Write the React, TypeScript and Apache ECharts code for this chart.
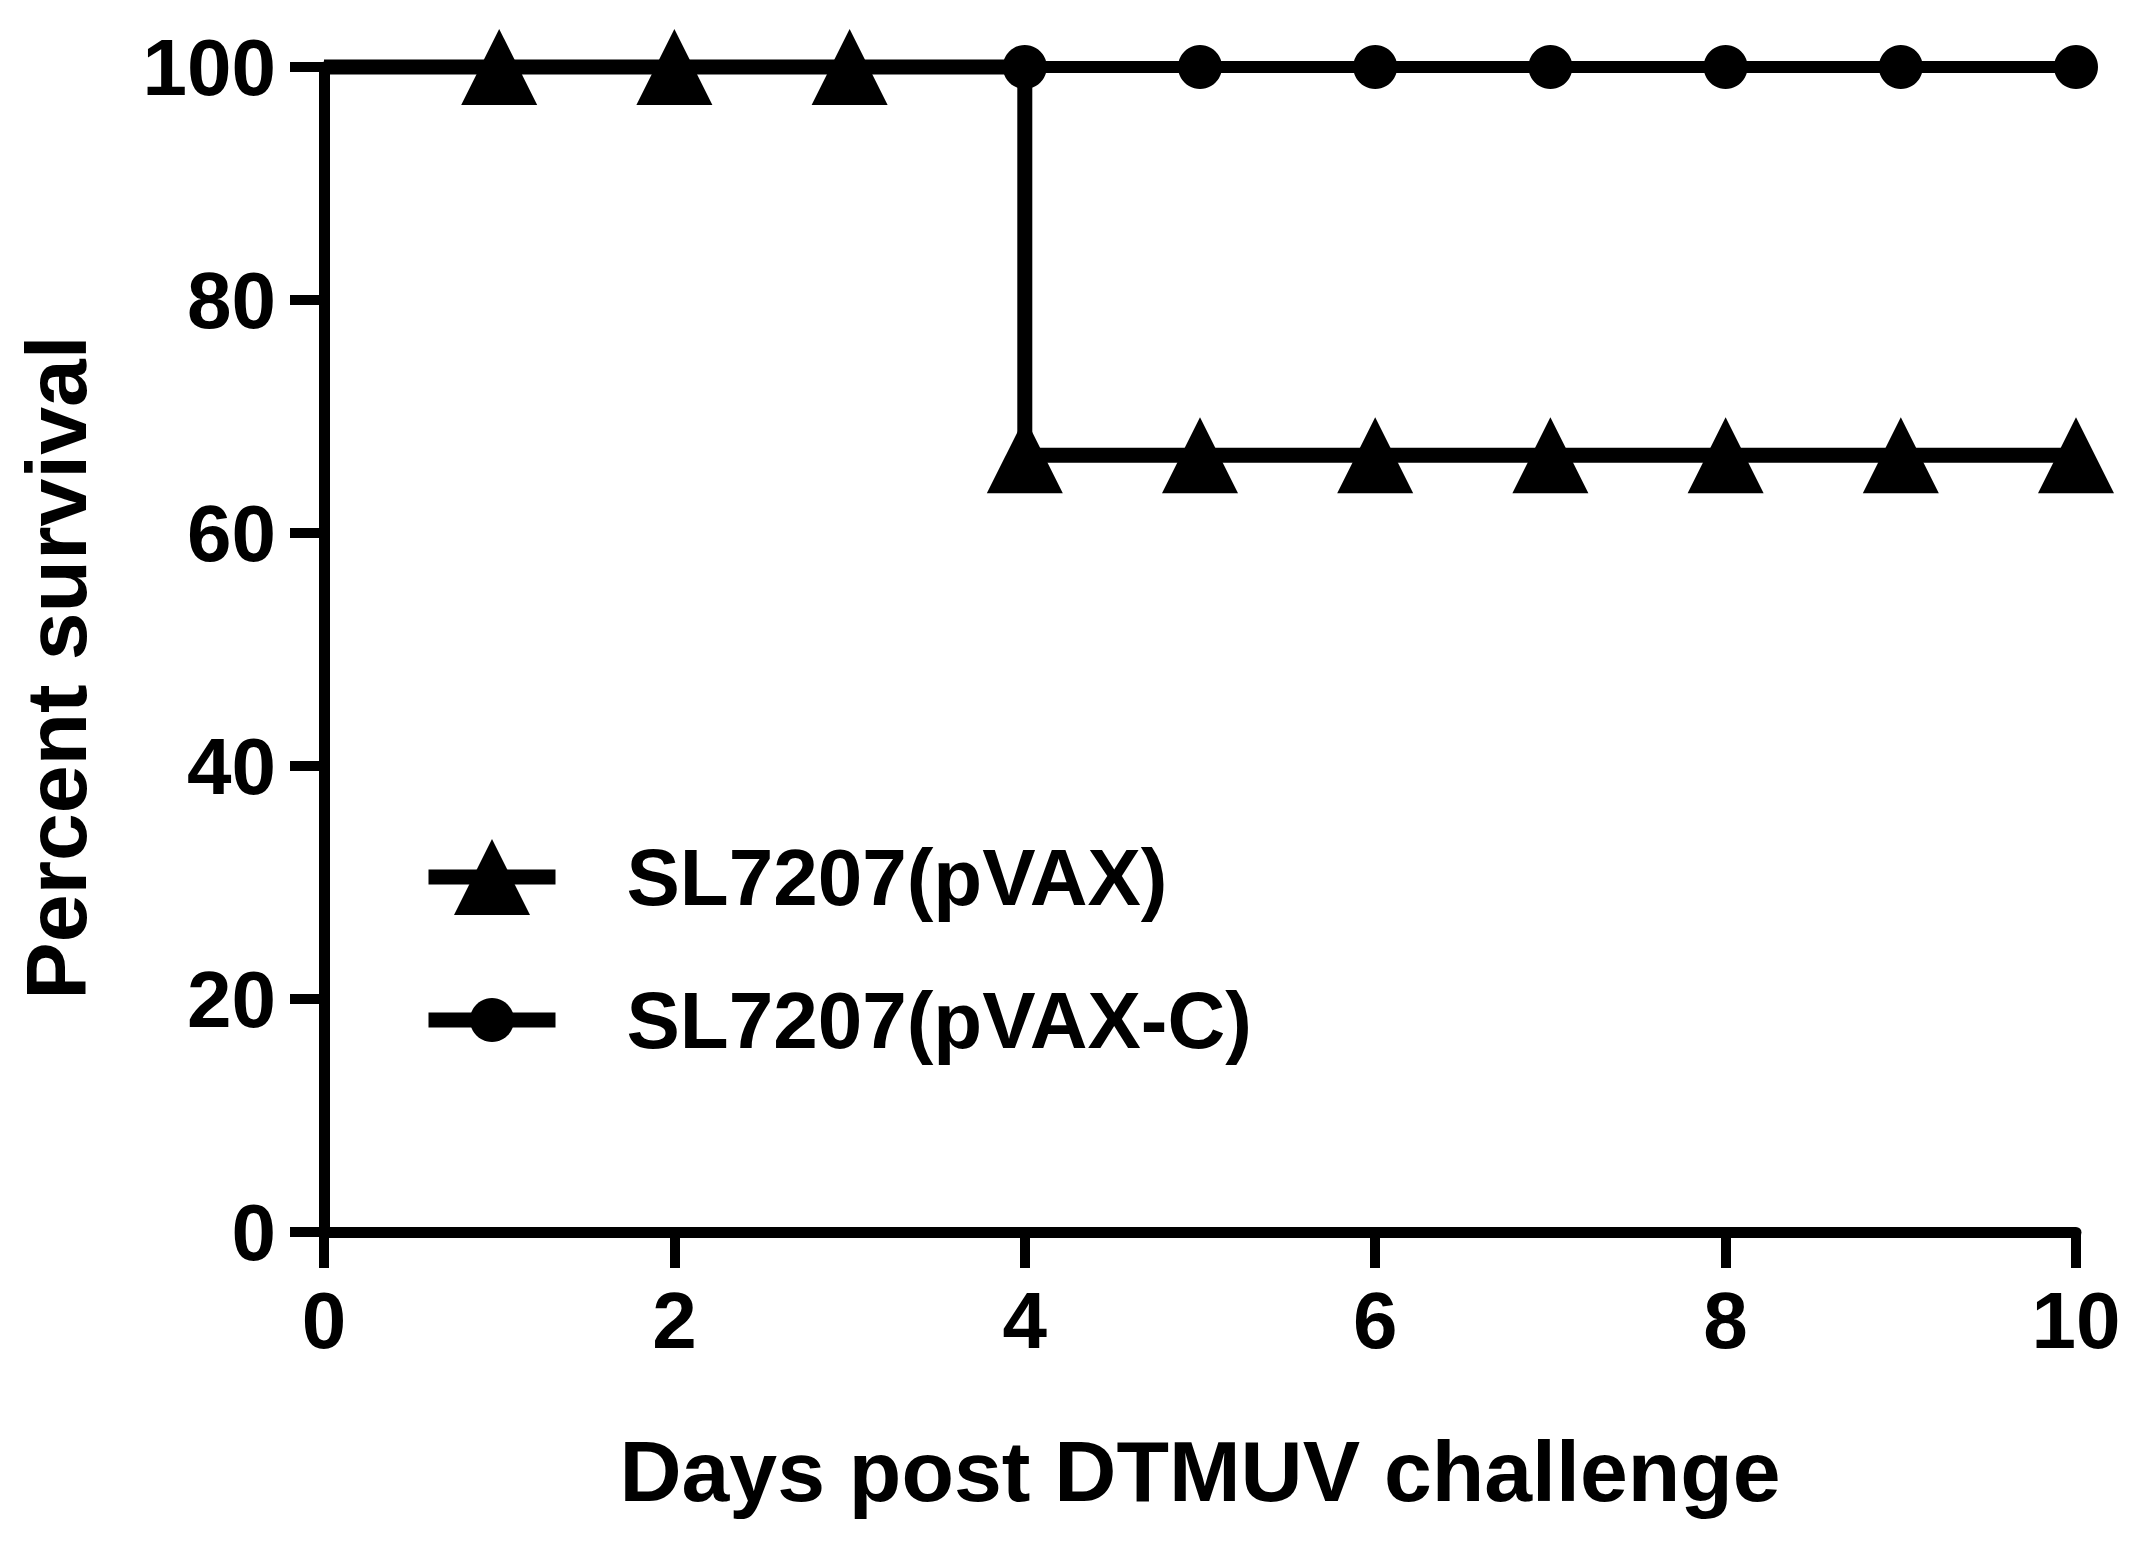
import React, { useEffect, useRef } from "react";
import * as echarts from "echarts";

const days = [0, 1, 2, 3, 4, 5, 6, 7, 8, 9, 10];
const survivalPVAX = [100, 100, 100, 100, 66.67, 66.67, 66.67, 66.67, 66.67, 66.67, 66.67];
const survivalPVAXC = [100, 100, 100, 100, 100, 100, 100, 100, 100, 100, 100];
const seriesNames = ["SL7207(pVAX)", "SL7207(pVAX-C)"];
const xTitle = "Days post DTMUV challenge";
const yTitle = "Percent survival";

const FONT = "'Liberation Sans', Arial, sans-serif";

export default function App() {
  const ref = useRef<HTMLDivElement>(null);
  useEffect(() => {
    if (!ref.current) return;
    const chart = echarts.init(ref.current, undefined, { renderer: "svg" });

    const pvaxData = days.map((d, i) =>
      i === 0 ? { value: [d, survivalPVAX[i]], symbol: "none" } : { value: [d, survivalPVAX[i]] }
    );
    const pvaxCData = days.map((d, i) =>
      i < 4 ? { value: [d, survivalPVAXC[i]], symbol: "none" } : { value: [d, survivalPVAXC[i]] }
    );

    const labelStyle = { fontSize: 80, fontWeight: "bold" as const, color: "#000", fontFamily: FONT };
    const legendBase = {
      left: 421,
      padding: 0,
      itemWidth: 127,
      selectedMode: false,
      lineStyle: { width: 15, color: "#000" },
      itemStyle: { color: "#000" },
      textStyle: { ...labelStyle, padding: [0, 0, 0, 66] },
    };

    chart.setOption({
      animation: false,
      backgroundColor: "#fff",
      grid: { left: 324, right: 63, top: 67, bottom: 314 },
      xAxis: {
        type: "value",
        min: 0,
        max: 10,
        interval: 2,
        axisLine: { lineStyle: { color: "#000", width: 11 } },
        axisTick: { length: 36, lineStyle: { color: "#000", width: 10 } },
        axisLabel: { ...labelStyle, margin: 48 },
        splitLine: { show: false },
        name: xTitle,
        nameLocation: "middle",
        nameGap: 196,
        nameTextStyle: { fontSize: 86, fontWeight: "bold", color: "#000", fontFamily: FONT },
      },
      yAxis: {
        type: "value",
        min: 0,
        max: 100,
        interval: 20,
        axisLine: { lineStyle: { color: "#000", width: 11 } },
        axisTick: { length: 34, lineStyle: { color: "#000", width: 10 } },
        axisLabel: { ...labelStyle, margin: 48 },
        splitLine: { show: false },
        name: yTitle,
        nameLocation: "middle",
        nameGap: 225,
        nameTextStyle: {
          fontSize: 86,
          fontWeight: "bold",
          color: "#000",
          fontFamily: FONT,
          padding: [0, 36, 0, 0],
        },
      },
      legend: [
        { ...legendBase, top: 837, itemHeight: 95, data: [seriesNames[0]] },
        { ...legendBase, top: 980, itemHeight: 55, data: [seriesNames[1]] },
      ],
      series: [
        {
          name: seriesNames[1],
          type: "line",
          step: "end",
          clip: false,
          data: pvaxCData,
          symbol: "circle",
          symbolSize: 44,
          color: "#000",
          itemStyle: { color: "#000" },
          lineStyle: { color: "#000", width: 12, join: "miter" },
          z: 2,
        },
        {
          name: seriesNames[0],
          type: "line",
          step: "end",
          clip: false,
          data: pvaxData,
          symbol: "triangle",
          symbolSize: 76,
          color: "#000",
          itemStyle: { color: "#000" },
          lineStyle: { color: "#000", width: 15, join: "miter" },
          z: 3,
        },
      ],
    });
    return () => chart.dispose();
  }, []);
  return (
    <div
      ref={ref}
      style={{ position: "absolute", left: 0, top: 0, width: 2139, height: 1546 }}
    />
  );
}
